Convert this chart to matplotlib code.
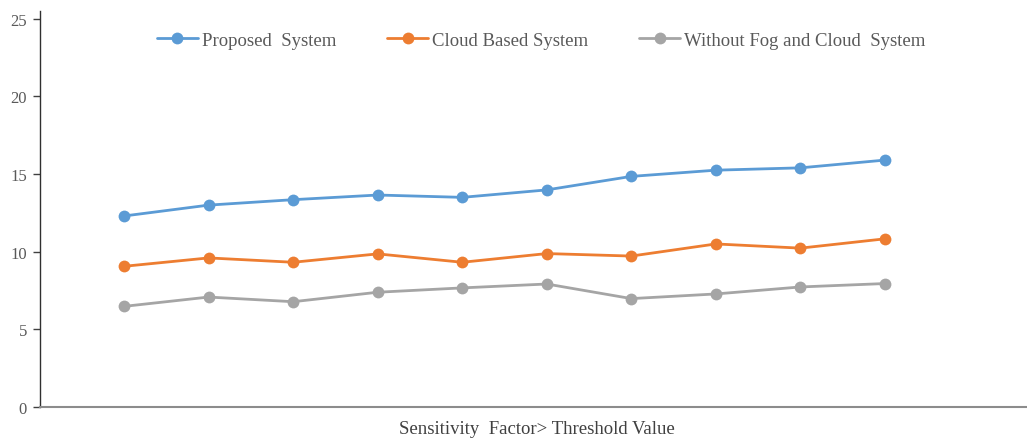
import matplotlib
matplotlib.use("Agg")
import matplotlib.pyplot as plt

# Performance values for each sensitivity level
points = list(range(1, 11))
proposed = [12.3, 13.0, 13.35, 13.65, 13.5, 13.98, 14.85, 15.25, 15.4, 15.9]
cloud_based = [9.06, 9.6, 9.32, 9.86, 9.32, 9.88, 9.72, 10.5, 10.23, 10.83]
without_fog_cloud = [6.48, 7.08, 6.78, 7.39, 7.67, 7.92, 6.98, 7.28, 7.73, 7.95]

series_names = ["Proposed  System", "Cloud Based System", "Without Fog and Cloud  System"]
colors = ["#5B9BD5", "#ED7D31", "#A5A5A5"]
y_ticks = [0, 5, 10, 15, 20, 25]
x_label = "Sensitivity  Factor> Threshold Value"

plt.rcParams["font.family"] = ["Liberation Serif", "DejaVu Serif"]

W, H = 1027, 439
fig = plt.figure(figsize=(W / 100, H / 100), dpi=100)
ax = fig.add_axes([39.5 / W, 31 / H, (W - 39.5) / W, 396 / H])

for vals, name, c in zip([proposed, cloud_based, without_fog_cloud], series_names, colors):
    ax.plot(points, vals, color=c, lw=2.0, marker="o", markersize=8.5,
            markeredgewidth=0, label=name, solid_capstyle="round")

ax.set_xlim(0, 11.68)
ax.set_ylim(0, 25.5)
ax.set_yticks(y_ticks)
ax.set_xticks([])
ax.tick_params(axis="y", length=5, width=1, color="#404040", labelcolor="#595959",
               labelsize=12, pad=4)

for side in ["top", "right"]:
    ax.spines[side].set_visible(False)
ax.spines["left"].set_color("#303030")
ax.spines["left"].set_linewidth(1.0)
ax.spines["bottom"].set_color("#8C8C8C")
ax.spines["bottom"].set_linewidth(1.5)

leg_fs = 13.5
leg = ax.legend(loc="upper center", bbox_to_anchor=(541 / W, 1 - 25 / H),
                bbox_transform=fig.transFigure, ncol=3, frameon=False,
                fontsize=leg_fs, handlelength=2.2, handletextpad=0.2,
                columnspacing=2.72, borderaxespad=0)
for t in leg.get_texts():
    t.set_color("#595959")

# axis title sits below the category axis, kept clear of the bottom edge
fig.text(537 / W, 1 - 434 / H, x_label, ha="center", va="baseline",
         fontsize=13.5, color="#404040")

fig.savefig("out.png", dpi=100, facecolor="white")
